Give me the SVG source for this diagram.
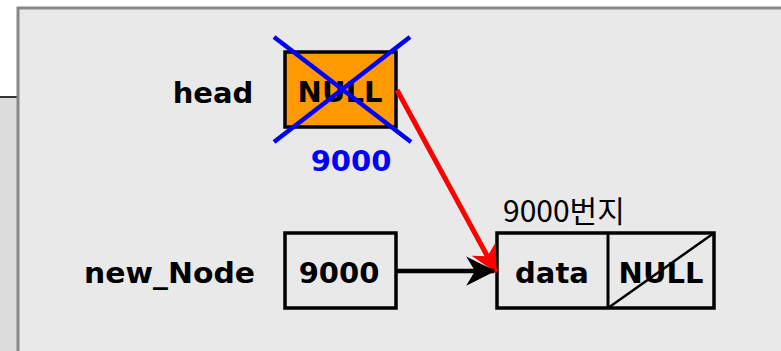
<svg xmlns="http://www.w3.org/2000/svg" width="781" height="351" viewBox="0 0 781 351">
<style>
.lbl{font-family:"DejaVu Sans","Verdana",sans-serif;font-weight:bold;font-size:29px;fill:#000}
.box{stroke:#000;stroke-width:3.5}
</style>
<defs>
<marker id="ab" viewBox="0 0 10 10" refX="9.5" refY="5" markerWidth="6.5" markerHeight="6.5" markerUnits="strokeWidth" orient="auto">
<path d="M0,0 L10,5 L0,10 L3,5 Z" fill="#000"/>
</marker>
<marker id="ar" viewBox="0 0 10 10" refX="9.5" refY="5" markerWidth="5.5" markerHeight="5.5" markerUnits="strokeWidth" orient="auto">
<path d="M0,0 L10,5 L0,10 L3,5 Z" fill="#ff0000"/>
</marker>
</defs>
<rect x="0" y="0" width="781" height="351" fill="#ffffff"/>
<rect x="0" y="97" width="20" height="254" fill="#dcdcdc"/>
<line x1="0" y1="97" x2="18" y2="97" stroke="#333" stroke-width="2"/>
<rect x="18" y="8" width="775" height="355" fill="#e9e9e9" stroke="#888" stroke-width="3"/>
<g id="head">
<text class="lbl" x="213" y="103" text-anchor="middle">head</text>
<rect class="box" x="285" y="52" width="111" height="75" fill="#ff9900"/>
<text class="lbl" x="340" y="102" text-anchor="middle">NULL</text>
<line x1="274" y1="37" x2="411" y2="142" stroke="#0000ff" stroke-width="4.5"/>
<line x1="410" y1="37" x2="274" y2="142" stroke="#0000ff" stroke-width="4.5"/>
<text class="lbl" x="351" y="171" text-anchor="middle" style="fill:#0000ff">9000</text>
</g>
<g id="new_Node">
<text class="lbl" x="255" y="283" text-anchor="end" textLength="171" lengthAdjust="spacingAndGlyphs">new_Node</text>
<rect class="box" x="285" y="233" width="111" height="75" fill="none"/>
<text class="lbl" x="339" y="283" text-anchor="middle">9000</text>
</g>
<g id="node9000">
<text x="503" y="222" style="font-family:'Noto Sans CJK KR',sans-serif;font-size:30px;fill:#000">9000번지</text>
<rect class="box" x="497" y="233" width="217" height="75" fill="none"/>
<line x1="608" y1="233" x2="608" y2="308" stroke="#000" stroke-width="3"/>
<line x1="608" y1="308" x2="714" y2="233" stroke="#000" stroke-width="2.5"/>
<text class="lbl" x="552" y="283" text-anchor="middle">data</text>
<text class="lbl" x="661" y="283" text-anchor="middle">NULL</text>
</g>
<g id="connectors">
<line x1="397" y1="90" x2="496" y2="272" stroke="#ff0000" stroke-width="5" marker-end="url(#ar)"/>
<line x1="397" y1="271" x2="494" y2="271" stroke="#000" stroke-width="4.5" marker-end="url(#ab)"/>
</g>
</svg>
